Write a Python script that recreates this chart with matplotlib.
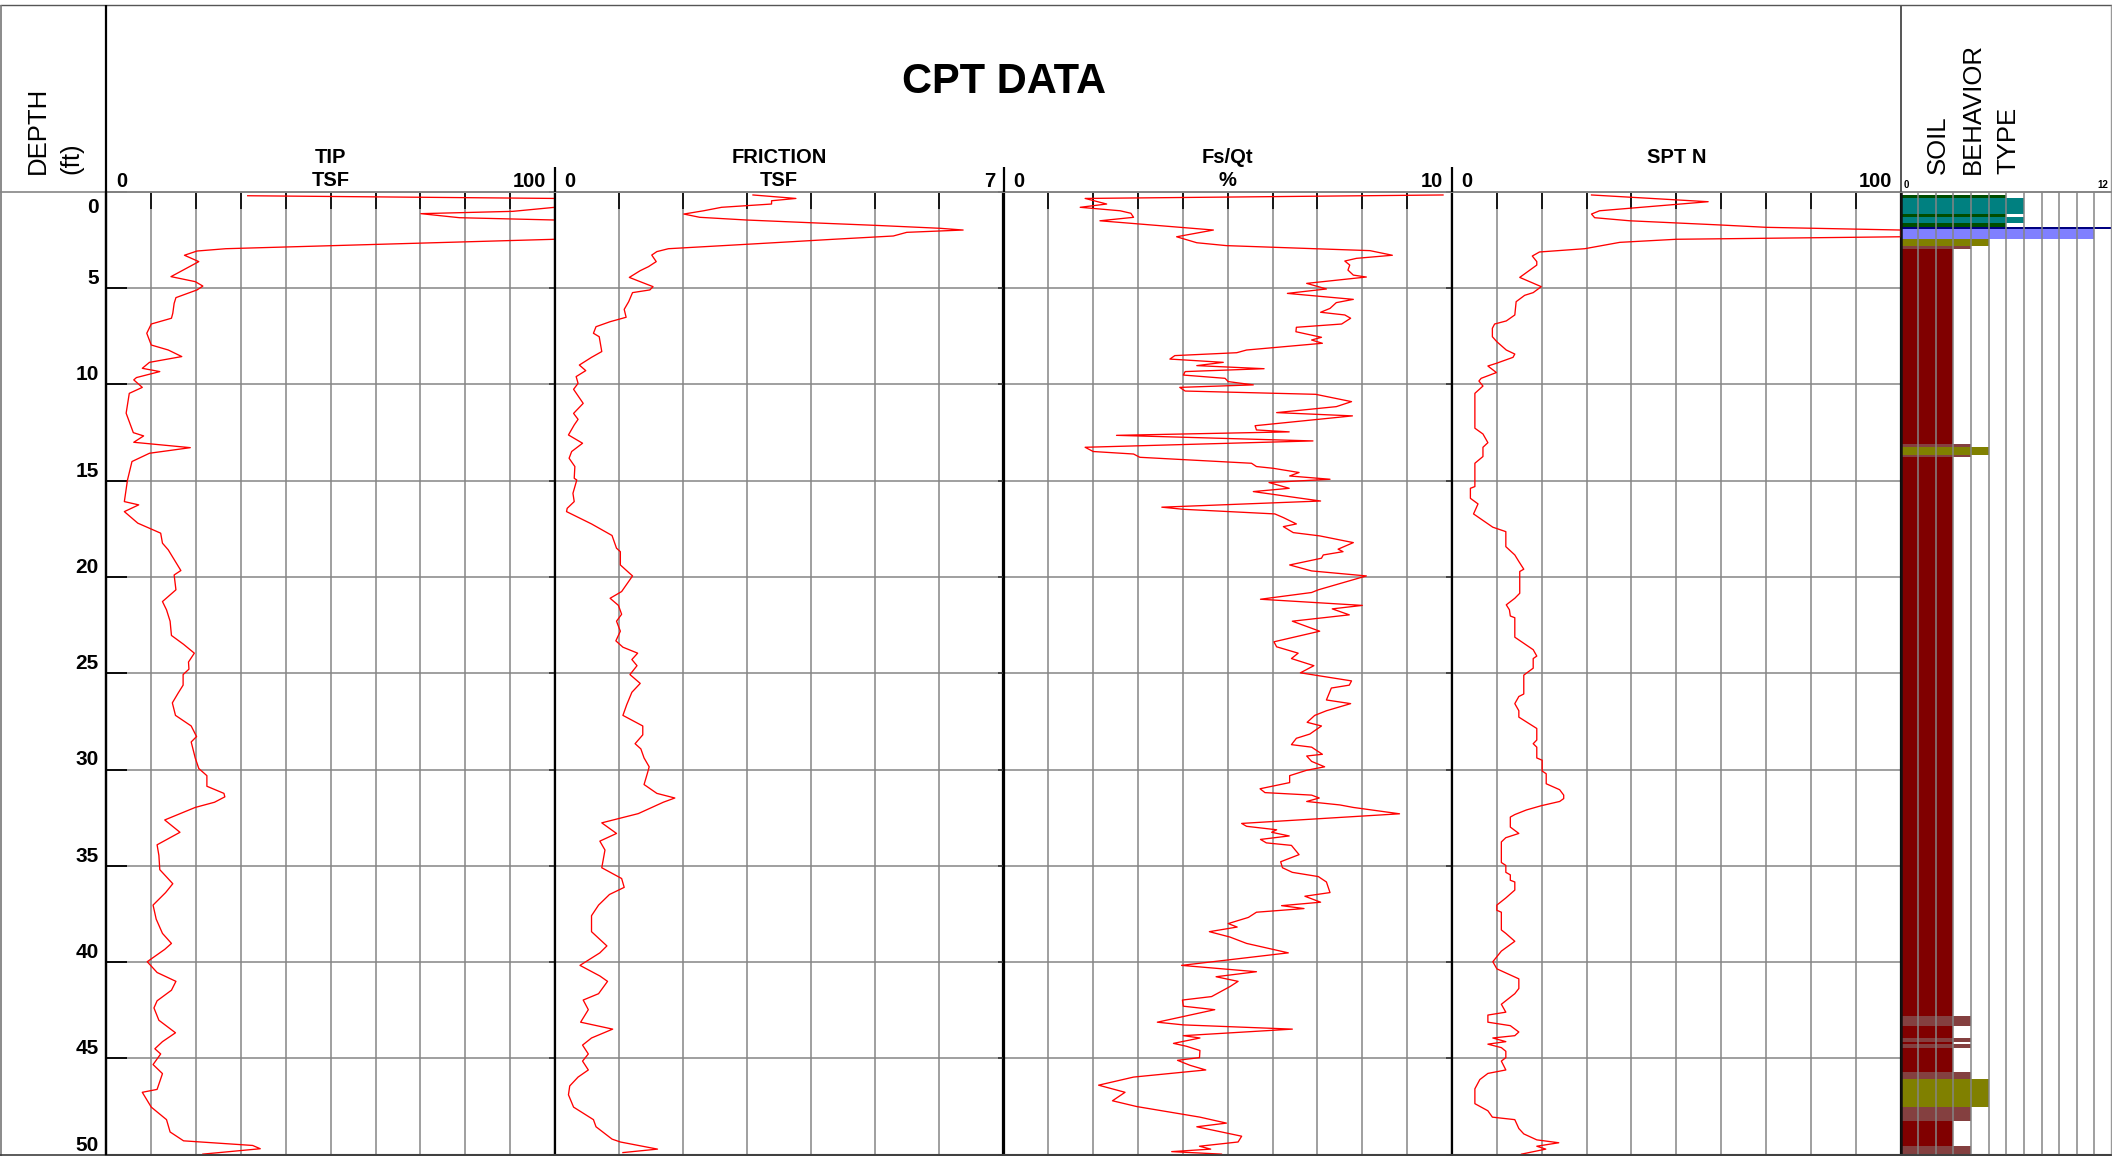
import matplotlib
matplotlib.use("Agg")
import matplotlib.pyplot as plt
from matplotlib.lines import Line2D
from matplotlib import transforms

plt.rcParams['font.family'] = ['Liberation Sans', 'DejaVu Sans']

# ---------------- DATA ----------------
tip_depth = [0.21, 0.35, 0.81, 1.02, 1.14, 1.35, 1.47, 2.47, 2.96, 3.08, 3.30, 3.63, 4.41, 4.67, 4.90,
             5.10, 5.50, 5.80, 6.31, 6.57, 6.87, 7.35, 7.96, 8.22, 8.56, 8.86, 9.17, 9.34, 9.65, 9.77,
             10.16, 10.47, 11.50, 12.51, 12.68, 13.01, 13.29, 13.58, 14.01, 14.97, 16.09, 16.26, 16.61,
             17.21, 17.73, 18.25, 18.60, 19.67, 19.90, 20.67, 21.28, 21.71, 22.30, 23.04, 23.50, 23.96,
             24.42, 24.79, 25.07, 25.62, 26.03, 26.54, 27.19, 27.74, 28.29, 28.57, 29.40, 29.95, 30.32,
             30.87, 31.24, 31.42, 31.70, 31.97, 32.62, 33.26, 33.91, 34.46, 35.20, 35.93, 36.39, 37.04,
             37.77, 38.51, 39.03, 39.34, 39.98, 40.54, 41.00, 41.46, 42.01, 42.38, 43.02, 43.67, 44.13,
             44.50, 44.77, 45.32, 45.79, 46.61, 46.76, 47.53, 48.18, 48.82, 49.28, 49.52, 49.69, 49.97]
tip_value = [31.5, 100, 100, 90.6, 70.1, 78.7, 100, 100, 26.6, 20.2, 17.4, 20.6, 14.4, 19.8, 21.5,
             20.2, 15.5, 15.1, 14.8, 14.5, 10.0, 9.0, 10.0, 13.8, 16.8, 9.6, 8.0, 11.9, 6.7, 6.1,
             8.0, 5.1, 4.4, 6.0, 8.3, 6.1, 18.7, 9.6, 5.7, 4.7, 4.0, 7.2, 4.0,
             7.0, 12.1, 12.5, 13.8, 16.6, 15.1, 15.5, 12.5, 13.4, 14.2, 14.5, 17.2, 19.6,
             18.3, 18.4, 17.1, 17.1, 16.0, 14.7, 15.4, 18.9, 20.1, 18.9, 19.8, 20.6, 22.4,
             22.4, 26.2, 26.4, 24.1, 19.8, 13.0, 16.4, 11.3, 11.7, 11.9, 14.8, 13.2, 10.4,
             11.1, 12.5, 14.5, 13.0, 9.1, 11.3, 15.5, 14.5, 11.3, 10.6, 11.7, 15.4, 12.5,
             10.8, 12.1, 10.4, 12.5, 11.3, 8.0, 10.0, 13.4, 14.2, 17.2, 32.6, 34.3, 21.5]

fric_depth = [0.17, 0.35, 0.47, 0.64, 0.81, 0.99, 1.16, 1.33, 1.47, 1.61, 1.75, 1.90, 1.99, 2.11, 2.30,
              2.47, 2.72, 2.96, 3.11, 3.29, 3.63, 3.89, 4.10, 4.45, 4.62, 4.93, 5.10, 5.24, 5.71, 6.11,
              6.52, 6.75, 7.01, 7.35, 7.53, 8.30, 8.60, 9.00, 9.29, 9.60, 9.95, 10.26, 10.99, 11.51,
              11.82, 12.11, 12.63, 13.06, 13.49, 13.84, 14.27, 14.88, 14.97, 15.66, 16.09, 16.44, 16.61,
              17.25, 17.85, 18.51, 18.69, 19.38, 19.95, 20.76, 21.11, 21.48, 21.94, 22.30, 22.82, 23.32,
              23.65, 23.96, 24.29, 24.61, 25.07, 25.53, 25.99, 26.63, 27.19, 27.74, 28.20, 28.66, 28.93,
              29.40, 29.86, 30.22, 30.78, 31.24, 31.48, 31.70, 32.29, 32.77, 33.32, 33.72, 34.18, 35.10,
              35.66, 36.12, 36.49, 37.04, 37.59, 38.42, 39.16, 39.52, 40.17, 40.72, 41.00, 41.64, 41.97,
              42.47, 43.12, 43.48, 43.94, 44.31, 44.77, 45.14, 45.60, 45.97, 46.43, 46.89, 47.53, 48.18,
              48.55, 49.19, 49.34, 49.71, 49.89]
fric_value = [3.09, 3.76, 3.38, 3.38, 2.60, 2.32, 2.01, 2.26, 2.99, 3.98, 5.02, 6.01, 6.37, 5.49, 5.28,
              4.35, 3.05, 1.77, 1.59, 1.51, 1.58, 1.46, 1.33, 1.16, 1.29, 1.53, 1.48, 1.21, 1.15, 1.08,
              1.11, 0.86, 0.64, 0.60, 0.69, 0.73, 0.57, 0.38, 0.48, 0.33, 0.36, 0.29, 0.44, 0.29,
              0.36, 0.30, 0.21, 0.43, 0.26, 0.22, 0.31, 0.30, 0.34, 0.28, 0.30, 0.19, 0.18,
              0.57, 0.89, 0.96, 1.02, 1.02, 1.21, 1.04, 0.86, 0.99, 1.04, 0.96, 1.02, 0.95,
              1.06, 1.29, 1.20, 1.28, 1.17, 1.33, 1.20, 1.12, 1.06, 1.37, 1.37, 1.25, 1.34,
              1.39, 1.47, 1.44, 1.39, 1.59, 1.87, 1.69, 1.30, 0.73, 0.96, 0.70, 0.78, 0.73,
              1.04, 1.08, 0.85, 0.68, 0.57, 0.57, 0.81, 0.70, 0.39, 0.70, 0.82, 0.68, 0.44,
              0.52, 0.40, 0.90, 0.57, 0.43, 0.52, 0.43, 0.52, 0.36, 0.23, 0.21, 0.29, 0.60,
              0.64, 0.89, 1.02, 1.60, 1.06]

fsqt_depth = [0.17, 0.35, 0.64, 0.81, 0.99, 1.12, 1.33, 1.51, 1.99, 2.34, 2.65, 2.80, 3.06, 3.30, 3.46,
              3.60, 3.81, 4.07, 4.33, 4.43, 4.76, 5.05, 5.28, 5.59, 5.76, 6.06, 6.26, 6.40, 6.57, 6.87,
              7.04, 7.27, 7.56, 7.70, 7.87, 8.22, 8.36, 8.51, 8.69, 8.86, 9.03, 9.19, 9.34, 9.52, 9.69,
              9.86, 10.03, 10.16, 10.35, 10.52, 10.90, 11.16, 11.47, 11.64, 12.15, 12.37, 12.47, 12.65,
              12.94, 13.27, 13.49, 13.62, 13.79, 14.10, 14.27, 14.36, 14.58, 14.76, 14.93, 15.10, 15.40,
              15.57, 15.74, 16.06, 16.38, 16.49, 16.73, 16.92, 17.25, 17.39, 17.70, 17.87, 18.22, 18.56,
              18.69, 18.86, 19.03, 19.38, 19.69, 19.95, 20.67, 20.81, 21.16, 21.48, 21.66, 21.97, 22.30,
              22.82, 23.37, 23.63, 23.96, 24.24, 24.61, 24.98, 25.40, 25.62, 25.77, 26.39, 26.58, 26.95,
              27.19, 27.55, 27.74, 28.16, 28.38, 28.71, 28.84, 29.21, 29.30, 29.58, 29.86, 30.04, 30.32,
              30.68, 31.00, 31.20, 31.33, 31.48, 31.66, 31.84, 31.97, 32.30, 32.80, 32.95, 33.13, 33.26,
              33.45, 33.63, 33.81, 33.94, 34.42, 34.79, 35.10, 35.34, 35.56, 35.84, 36.39, 36.58, 36.89,
              37.07, 37.22, 37.41, 37.68, 38.00, 38.18, 38.42, 38.70, 39.03, 39.52, 40.17, 40.50, 40.76,
              41.00, 41.27, 41.79, 41.97, 42.29, 42.47, 43.12, 43.26, 43.48, 43.82, 43.94, 44.22, 44.37,
              44.59, 44.96, 45.10, 45.36, 45.60, 45.97, 46.39, 46.76, 47.20, 47.50, 48.05, 48.36, 48.55,
              49.04, 49.34, 49.56, 49.71, 49.84, 49.97]
fsqt_value = [9.80, 1.82, 2.30, 1.71, 2.60, 2.84, 2.90, 2.15, 4.68, 3.86, 4.31, 4.97, 8.17, 8.67, 7.87,
              7.61, 7.72, 7.68, 7.80, 8.09, 6.76, 7.20, 6.33, 7.80, 7.42, 7.28, 7.07, 7.61, 7.74, 7.54,
              6.53, 6.52, 7.09, 6.87, 7.11, 5.42, 5.20, 3.82, 3.71, 4.90, 4.31, 5.81, 4.05, 4.01, 4.94,
              5.01, 5.57, 3.93, 4.05, 6.96, 7.76, 7.42, 6.09, 7.78, 5.61, 5.64, 6.37, 2.52,
              6.90, 1.82, 2.00, 2.90, 3.04, 5.53, 5.64, 6.01, 6.59, 6.38, 7.28, 5.92, 6.37,
              5.57, 6.09, 7.07, 3.53, 4.01, 6.05, 6.24, 6.53, 6.24, 6.46, 7.05, 7.80, 7.46,
              7.57, 7.13, 7.09, 6.38, 6.87, 8.09, 7.02, 6.87, 5.73, 8.00, 7.33, 7.71, 6.44,
              7.05, 6.03, 6.09, 6.57, 6.42, 6.92, 6.62, 7.76, 7.71, 7.31, 7.20, 7.74, 7.20,
              6.94, 6.77, 7.09, 6.83, 6.53, 6.42, 6.87, 7.11, 6.76, 6.87, 7.16, 6.76, 6.38,
              6.38, 5.72, 5.83, 6.87, 7.04, 6.76, 7.50, 7.80, 8.83, 5.31, 5.42, 6.09, 5.98,
              6.37, 5.73, 5.86, 6.42, 6.59, 6.18, 6.22, 6.44, 7.02, 7.20, 7.28, 6.72, 7.07,
              6.20, 6.70, 5.64, 5.46, 5.01, 5.21, 4.59, 5.05, 5.42, 6.35, 3.97, 5.64, 4.74,
              5.23, 5.05, 4.64, 3.99, 4.01, 4.71, 3.43, 4.01, 6.44, 4.01, 4.38, 3.79, 4.08,
              4.38, 4.37, 3.88, 4.16, 4.51, 2.90, 2.12, 2.71, 2.43, 2.97, 4.38, 4.97, 4.31,
              5.31, 5.23, 4.37, 4.62, 3.75, 4.86]

spt_depth = [0.17, 0.52, 0.99, 1.16, 1.35, 1.51, 1.73, 1.85, 1.99, 2.34, 2.47, 2.63, 2.96, 3.13, 3.34,
             3.63, 3.81, 4.45, 4.93, 5.24, 5.38, 5.71, 6.40, 6.71, 6.87, 7.09, 7.53, 7.79, 8.22, 8.43,
             8.60, 8.91, 9.05, 9.39, 9.69, 9.83, 10.09, 10.47, 12.28, 12.58, 13.03, 13.27, 13.75, 14.10,
             15.31, 15.40, 15.92, 16.21, 16.73, 17.42, 17.65, 18.43, 18.86, 19.20, 19.60, 19.72, 20.85,
             21.11, 21.45, 21.71, 22.03, 22.12, 23.13, 23.78, 24.11, 24.24, 24.74, 25.10, 26.08, 26.21,
             26.58, 26.95, 27.28, 27.87, 28.47, 28.66, 28.84, 29.40, 29.52, 30.08, 30.22, 30.74, 31.05,
             31.33, 31.51, 31.66, 31.88, 32.10, 32.34, 32.47, 32.99, 33.32, 33.54, 33.76, 34.83, 34.98,
             35.34, 35.47, 35.75, 35.84, 36.26, 36.67, 37.04, 37.31, 37.41, 38.33, 38.51, 38.92, 39.43,
             39.98, 40.35, 40.87, 41.37, 41.64, 42.19, 42.60, 42.75, 43.12, 43.30, 43.63, 43.82, 43.94,
             44.13, 44.26, 44.44, 44.63, 44.96, 45.14, 45.60, 45.78, 46.10, 46.58, 47.35, 47.72, 48.05,
             48.18, 48.64, 48.92, 49.23, 49.38, 49.56, 49.71, 49.97]
spt_value = [31.1, 57.1, 32.9, 31.1, 31.8, 39.6, 60.0, 70.1, 100, 100, 50.0, 37.4, 29.6, 19.5, 17.9,
             18.9, 18.9, 15.1, 19.9, 18.1, 16.2, 14.3, 14.0, 12.1, 9.5, 9.0, 9.0, 10.0, 12.1, 14.0,
             13.6, 9.9, 8.0, 9.9, 6.5, 6.0, 6.9, 5.1, 5.1, 6.9, 8.0, 6.9, 6.9, 5.1,
             5.1, 4.1, 4.1, 5.8, 4.8, 9.1, 12.0, 12.0, 14.0, 14.9, 16.0, 15.1, 15.1,
             14.0, 12.1, 12.8, 13.0, 14.0, 14.0, 18.1, 18.9, 18.1, 18.1, 16.0, 16.0, 14.9,
             14.0, 14.9, 14.9, 18.9, 18.9, 18.1, 18.9, 18.9, 20.1, 20.1, 21.0, 21.0, 24.0,
             24.9, 24.9, 24.0, 19.9, 16.6, 14.0, 13.0, 13.0, 14.9, 12.0, 11.0, 11.0, 12.0,
             12.0, 13.0, 13.0, 14.0, 14.0, 12.0, 10.0, 10.0, 11.0, 11.0, 12.0, 14.0, 11.0,
             9.1, 10.0, 14.9, 14.9, 14.0, 11.0, 12.0, 8.0, 8.0, 13.0, 14.9, 14.0, 9.1,
             12.0, 8.0, 11.0, 12.0, 12.0, 11.0, 12.0, 8.0, 6.2, 5.1, 5.1, 8.0, 9.0,
             14.0, 14.9, 16.0, 18.9, 23.8, 18.9, 20.9, 15.5]

# Soil behaviour type layers
sbt_top = [0.17, 0.31, 1.17, 1.31, 1.64, 1.82, 1.95, 2.47, 2.82, 2.99, 13.12, 13.26, 13.65, 13.79,
           42.78, 43.30, 43.92, 44.13, 44.25, 44.44, 45.72, 46.07, 47.54, 48.23, 49.53]
sbt_bottom = [0.31, 1.17, 1.31, 1.64, 1.82, 1.95, 2.47, 2.82, 2.99, 13.12, 13.26, 13.65, 13.79, 42.78,
              43.30, 43.92, 44.13, 44.25, 44.44, 45.72, 46.07, 47.54, 48.23, 49.53, 50.0]
sbt_zone = [6, 7, 6, 7, 6, 12, 11, 5, 4, 3, 4, 5, 4, 3,
            4, 3, 4, 3, 4, 3, 4, 5, 4, 3, 4]
sbt_colors = {3: '#800000', 4: '#844040', 5: '#808000', 6: '#004d00', 7: '#008080',
              11: '#8080ff', 12: '#000080'}

depth_ticks = [0, 5, 10, 15, 20, 25, 30, 35, 40, 45, 50]

track_titles = [("TIP", "TSF"), ("FRICTION", "TSF"), ("Fs/Qt", "%"), ("SPT N", "")]
track_max = [100, 7, 10, 100]
track_max_label = ["100", "7", "10", "100"]
track_divisions = [10, 7, 10, 10]

# ---------------- LAYOUT ----------------
W, H = 2112, 1156
fig = plt.figure(figsize=(W / 100, H / 100), dpi=100)

Y_TOP, Y_BOT = 191.7, 1154.7
track_edges = [106.4, 555.0, 1003.5, 1452.0, 1900.6]
SBT_RIGHT = 2112.0
GRID_C = '#858585'


def fx(px):
    return px / W


def fy(py):
    return 1 - py / H


def rect(x0, x1):
    return [fx(x0), fy(Y_BOT), (x1 - x0) / W, (Y_BOT - Y_TOP) / H]


def fline(x0, y0, x1, y1, color='black', lw=1.5):
    fig.add_artist(Line2D([fx(x0), fx(x1)], [fy(y0), fy(y1)], transform=fig.transFigure,
                          color=color, lw=lw, solid_capstyle='butt'))


data_sets = [(tip_depth, tip_value), (fric_depth, fric_value),
             (fsqt_depth, fsqt_value), (spt_depth, spt_value)]

axes = []
for i, (dep, val) in enumerate(data_sets):
    x0, x1 = track_edges[i], track_edges[i + 1]
    ax = fig.add_axes(rect(x0, x1))
    axes.append(ax)
    xm = track_max[i]
    nd = track_divisions[i]
    ax.set_xlim(0, xm)
    ax.set_ylim(50, 0)
    ax.set_xticks([xm * k / nd for k in range(nd + 1)])
    ax.set_yticks(depth_ticks)
    ax.set_xticklabels([])
    ax.set_yticklabels([])
    ax.grid(True, color=GRID_C, lw=1.1)
    ax.set_axisbelow(True)
    ax.plot(val, dep, color='#ff0000', lw=0.95, zorder=3)
    ax.xaxis.set_ticks_position('top')
    ax.tick_params(axis='x', direction='in', length=12, width=1.2, color='black',
                   top=True, bottom=False)
    if i == 0:
        ax.tick_params(axis='y', direction='in', length=15, width=1.3, color='black', left=True)
    else:
        ax.tick_params(axis='y', direction='out', length=4, width=1.2, color='#333333', left=True)
    for s in ['left', 'right']:
        ax.spines[s].set_color('black')
        ax.spines[s].set_linewidth(1.6)
    ax.spines['top'].set_color(GRID_C)
    ax.spines['top'].set_linewidth(1.2)
    ax.spines['bottom'].set_color('#404040')
    ax.spines['bottom'].set_linewidth(1.5)

    # header labels
    xc = (x0 + x1) / 2
    t1, t2 = track_titles[i]
    fig.text(fx(xc), fy(163.3), t1, ha='center', va='baseline', fontsize=14.5, fontweight='bold')
    if t2:
        fig.text(fx(xc), fy(186.2), t2, ha='center', va='baseline', fontsize=14.5, fontweight='bold')
    fig.text(fx(x0 + 9.5), fy(187.3), "0", ha='left', va='baseline', fontsize=14.5, fontweight='bold')
    fig.text(fx(x1 - 8.5), fy(187.3), track_max_label[i], ha='right', va='baseline',
             fontsize=14.5, fontweight='bold')

# depth labels
tip_ax = axes[0]
trans = transforms.blended_transform_factory(tip_ax.transAxes, tip_ax.transData)
for d in depth_ticks:
    y = 1.08 if d == 0 else d - 0.21
    tip_ax.text(-7.7 / (track_edges[1] - track_edges[0]), y, str(d), transform=trans,
                ha='right', va='baseline', fontsize=15, fontweight='bold', clip_on=False)

# SBT column
sax = fig.add_axes(rect(track_edges[4], SBT_RIGHT))
sax.set_xlim(0, 12)
sax.set_ylim(50, 0)
for t, b, z in zip(sbt_top, sbt_bottom, sbt_zone):
    sax.barh(t, z, height=b - t, left=0, align='edge', color=sbt_colors[z], lw=0)
sax.set_xticks(range(1, 12))
sax.set_yticks([])
sax.set_xticklabels([])
sax.xaxis.grid(True, color=GRID_C, lw=1.1)
sax.set_axisbelow(False)
sax.tick_params(axis='x', length=0)
sax.spines['left'].set_color('#111111')
sax.spines['left'].set_linewidth(1.8)
sax.spines['right'].set_color(GRID_C)
sax.spines['top'].set_color(GRID_C)
sax.spines['top'].set_linewidth(1.2)
sax.spines['bottom'].set_color('#404040')
sax.spines['bottom'].set_linewidth(1.5)
fig.text(fx(1903.5), fy(187.5), "0", ha='left', va='baseline', fontsize=7, fontweight='bold')
fig.text(fx(2108), fy(187.5), "12", ha='right', va='baseline', fontsize=7, fontweight='bold')

for label, xc in [("SOIL", 1938), ("BEHAVIOR", 1973), ("TYPE", 2008)]:
    fig.text(fx(xc), fy(173.5), label, rotation=90, ha='center', va='bottom', fontsize=18.5)

# Title and depth header
fig.text(fx(1003.5), fy(93), "CPT DATA", ha='center', va='baseline', fontsize=30, fontweight='bold')
fig.text(fx(38), fy(173.5), "DEPTH", rotation=90, ha='center', va='bottom', fontsize=18.5)
fig.text(fx(71), fy(173.5), "(ft)", rotation=90, ha='center', va='bottom', fontsize=18.5)

# frame and separators
fline(0, 4.5, W, 4.5, color='#555555', lw=1.0)
fline(1.0, 4.5, 1.0, 1155.5, color='#777777', lw=1.2)
fline(W - 0.8, 4.5, W - 0.8, 1155.5, color='#999999', lw=1.0)
fline(0, Y_TOP, W, Y_TOP, color=GRID_C, lw=1.2)
fline(0, 1155.3, W, 1155.3, color='#404040', lw=1.2)
fline(track_edges[0], 4.5, track_edges[0], Y_BOT, color='black', lw=1.6)
fline(track_edges[4], 4.5, track_edges[4], Y_TOP, color='#555555', lw=1.4)
for xe in track_edges[1:4]:
    fline(xe, 166.5, xe, Y_TOP, color='black', lw=1.6)

fig.savefig("out.png", dpi=100)
